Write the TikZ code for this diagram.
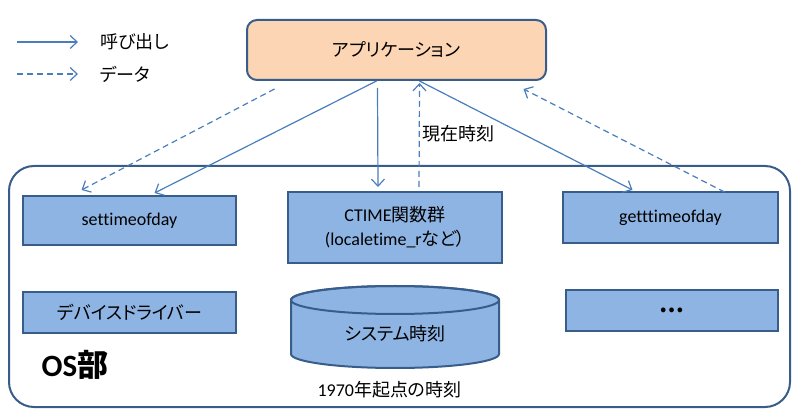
\documentclass[tikz,border=0pt]{standalone}
\usepackage{fontspec}
\setmainfont[Ligatures=NoCommon, RawFeature=-liga]{Carlito}
\newfontfamily\jp[RawFeature=+palt]{Noto Sans CJK JP}
\definecolor{boxblue}{RGB}{142,180,227}
\definecolor{edgeblue}{RGB}{56,93,138}
\definecolor{arrowblue}{RGB}{74,126,187}
\definecolor{apppeach}{RGB}{252,213,181}
\usetikzlibrary{arrows.meta, positioning}

\begin{document}
\begin{tikzpicture}[x=1pt, y=-1pt,
  box/.style={draw=edgeblue, fill=boxblue, line width=2pt, align=center, inner sep=0pt, font=\fontsize{18}{24}\selectfont},
  txt/.style={inner sep=0pt, font=\fontsize{18}{22}\selectfont},
  call/.style={draw=arrowblue, line width=1.2pt, -{Straight Barb[length=7pt, width=13pt]}},
  data/.style={call, dash pattern=on 6pt off 4pt}]
  \useasboundingbox (0,0) rectangle (800,419);

  % legend
  \coordinate (callA) at (17,42);
  \coordinate (callB) at (78,42);
  \coordinate (dataA) at (17,74);
  \coordinate (dataB) at (78,74);
  \draw[call] (callA) -- (callB);
  \draw[data] (dataA) -- (dataB);
  \node[txt, anchor=west, right=22pt of callB] (callText) {\jp 呼び出し};
  \node[txt, anchor=west, right=22pt of dataB] (dataText) {\jp データ};

  % OS part
  \node[draw=edgeblue, line width=2pt, rounded corners=25pt, minimum width=781pt, minimum height=241pt] (os) at (399.5,286.5) {};
  \node[txt, font=\fontsize{31}{34}\selectfont\bfseries] (osText) at (75,365) {OS{\jp 部}};

  % application
  \node[box, fill=apppeach, rounded corners=10pt, minimum width=299pt, minimum height=60pt] (app) at (396.5,50) {\jp アプリケーション};

  \node[box, minimum width=213pt, minimum height=49pt] (settime) at (129.5,220.5) {settimeofday};
  \node[box, minimum width=214pt, minimum height=71pt] (ctime) at (395,227.5) {CTIME{\jp 関数群}\\(localetime\_r{\jp など）}};
  \node[box, minimum width=215pt, minimum height=51pt] (gettime) at (670.5,217.5) {getttimeofday};
  \node[box, minimum width=213pt, minimum height=41pt] (driver) at (129.5,312.5) {\jp デバイスドライバー};
  \node[box, minimum width=212pt, minimum height=41pt, font=\fontsize{22}{24}\selectfont\bfseries] (more) at (672,310.5) {\jp …};

  % system clock
  \draw[draw=edgeblue, fill=boxblue, line width=2pt] (291,300) -- (291,354)
    arc[start angle=180, end angle=0, x radius=104, y radius=14] -- (499,300)
    arc[start angle=0, end angle=-180, x radius=104, y radius=14] -- cycle;
  \draw[draw=edgeblue, line width=2pt] (395,300) ellipse[x radius=104, y radius=14];
  \node[txt] (clock) at (395,334) {\jp システム時刻};
  \node[txt] (epoch) at (389.5,390) {1970{\jp 年起点の時刻}};

  % connectors
  \draw[data] ([xshift=-122pt, yshift=-8pt]app.south) -- ([xshift=-48pt, yshift=5pt]settime.north);
  \draw[call] ([xshift=-20pt]app.south) -- ([xshift=25pt, yshift=2pt]settime.north);
  \draw[call] ([xshift=-19pt, yshift=-7pt]app.south) -- ([xshift=-17pt, yshift=4pt]ctime.north);
  \draw[data] ([xshift=24pt, yshift=4pt]ctime.north) -- ([xshift=23pt, yshift=-2pt]app.south);
  \draw[call] ([xshift=23pt]app.south) -- ([xshift=-38pt, yshift=1pt]gettime.north);
  \draw[data] ([xshift=54pt, yshift=-1pt]gettime.north) -- ([xshift=127pt, yshift=-8pt]app.south);
  \node[txt, anchor=west] (nowText) at (422,134) {\jp 現在時刻};
\end{tikzpicture}
\end{document}
